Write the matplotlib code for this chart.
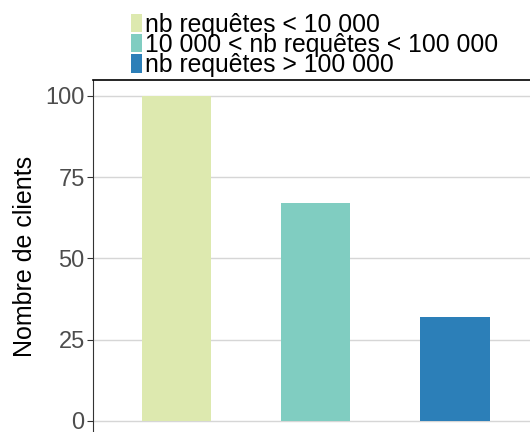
import matplotlib.pyplot as plt
from matplotlib.patches import Patch

plt.rcParams["font.family"] = ["Liberation Sans", "DejaVu Sans"]

categories = ["nb requêtes < 10 000", "10 000 < nb requêtes < 100 000", "nb requêtes > 100 000"]
clients = [100, 67, 32]
colors = ["#dde9af", "#80cdc1", "#2c7fb8"]
yticks = [0, 25, 50, 75, 100]

fig = plt.figure(figsize=(5.3, 4.32), dpi=100)
ax = fig.add_axes([93 / 530, 0, 1 - 93 / 530, (432 - 80) / 432])

pos = list(range(1, len(categories) + 1))
ax.bar(pos, clients, width=0.5, color=colors, zorder=3)

ax.set_xlim(0.4, 3.54)
ax.set_ylim(-3.4, 104.9)
ax.set_yticks(yticks)
ax.set_xticks(pos)
ax.tick_params(axis="x", length=0, labelbottom=False)
ax.tick_params(axis="y", length=4, width=0.8, color="#333333", labelsize=17,
               labelcolor="#4d4d4d", pad=2)
ax.grid(axis="y", color="#d6d6d6", linewidth=1, zorder=1)
ax.grid(axis="x", color="white", linewidth=1, zorder=2)

for side in ["right", "bottom"]:
    ax.spines[side].set_visible(False)
ax.spines["left"].set_color("#333333")
ax.spines["left"].set_linewidth(0.8)
ax.spines["top"].set_color("black")
ax.spines["top"].set_linewidth(1.2)

ax.set_ylabel("Nombre de clients", fontsize=18, labelpad=6)

handles = [Patch(facecolor=c, edgecolor="none") for c in colors]
fig.legend(handles, categories, loc="upper left", bbox_to_anchor=(114 / 530, 1.01),
           frameon=False, fontsize=17.8, handlelength=0.45, handleheight=0.75,
           handletextpad=0.1, labelspacing=-0.16, borderaxespad=0.3)

fig.savefig("out.png", dpi=100)
